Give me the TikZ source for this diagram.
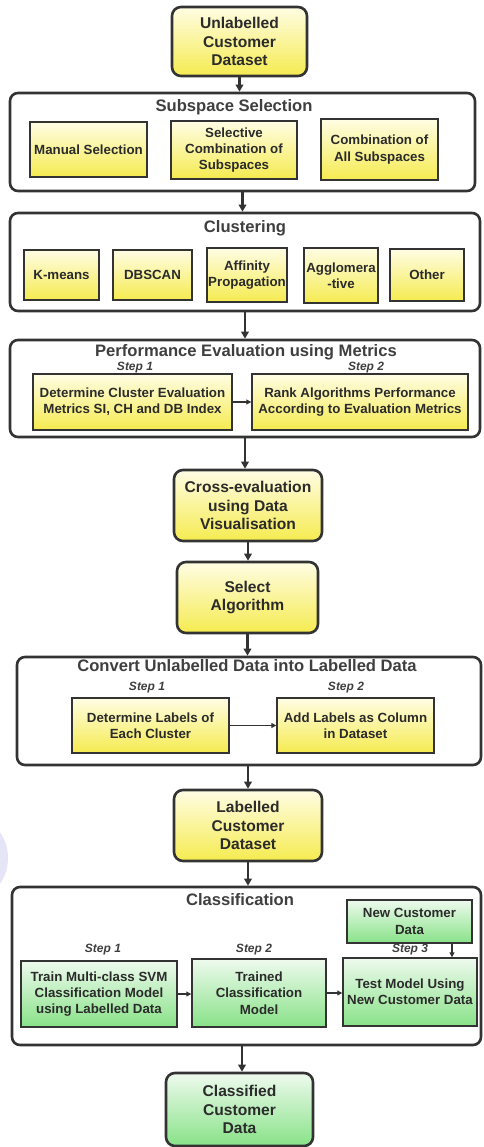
\documentclass[tikz,border=0pt]{standalone}
\usepackage{fontspec}
\setmainfont{Liberation Sans}
\usetikzlibrary{arrows.meta}
\definecolor{bordc}{HTML}{333333}
\definecolor{txtc}{HTML}{2B2B2B}
\definecolor{titlec}{HTML}{3F3F3F}
\definecolor{ytop}{HTML}{FFFDE4}
\definecolor{ybot}{HTML}{F5EB50}
\definecolor{gtop}{HTML}{EEFAEE}
\definecolor{gbot}{HTML}{88E288}
\definecolor{lav}{HTML}{E6E4F7}
\newcommand{\termfont}{\fontsize{15.6}{18.6}\selectfont\bfseries}
\newcommand{\boxfont}{\fontsize{13.3}{16.3}\selectfont\bfseries}
\newcommand{\titlefont}{\fontsize{16.6}{20}\selectfont\bfseries}
\newcommand{\stepfont}{\fontsize{12}{14}\selectfont\bfseries\itshape}
\tikzset{
  bigbox/.style={draw=bordc, line width=2.6pt, rounded corners=8pt, fill=white, inner sep=0pt},
  yterm/.style={draw=bordc, line width=2.6pt, rounded corners=9pt, top color=ytop, bottom color=ybot, align=center, font=\termfont, text=txtc, inner sep=0pt},
  gterm/.style={yterm, top color=gtop, bottom color=gbot},
  ybox/.style={draw=bordc, line width=1.4pt, top color=ytop, bottom color=ybot, align=center, font=\boxfont, text=txtc, inner sep=0pt},
  gbox/.style={ybox, top color=gtop, bottom color=gbot},
  boxtitle/.style={font=\titlefont, text=titlec, inner sep=0pt},
  steplbl/.style={font=\stepfont, text=titlec, inner sep=0pt},
  arr/.style={draw=bordc, line width=2.4pt, -{Triangle[length=7pt,width=7.5pt]}},
  sarr/.style={draw=bordc, line width=1.2pt, -{Triangle[length=5pt,width=5pt]}},
}
\begin{document}
\begin{tikzpicture}[x=1pt,y=-1pt]
\useasboundingbox (0,0) rectangle (483,1147);
\fill[lav] (-30,858) ellipse [x radius=38, y radius=42];

% top terminal
\node[yterm, minimum width=135pt, minimum height=69pt] (ucd) at (239.5,41.5) {Unlabelled\\Customer\\Dataset};

% Subspace selection
\node[bigbox, minimum width=465pt, minimum height=98pt] (ss) at (242.5,142) {};
\node[boxtitle] (sst) at (234,107) {Subspace Selection};
\node[ybox, minimum width=117pt, minimum height=55pt] (ms) at (88.5,149.5) {Manual Selection};
\node[ybox, minimum width=126pt, minimum height=58pt] (sc) at (234,150) {Selective\\Combination of\\Subspaces};
\node[ybox, minimum width=117pt, minimum height=61pt] (ca) at (379.5,149.5) {Combination of\\All Subspaces};

% Clustering
\node[bigbox, minimum width=470pt, minimum height=98pt] (cl) at (245,262) {};
\node[boxtitle] (clt) at (245,228) {Clustering};
\node[ybox, minimum width=75pt, minimum height=50pt] (km) at (61.5,275) {K-means};
\node[ybox, minimum width=79pt, minimum height=50pt] (dbs) at (152.5,275) {DBSCAN};
\node[ybox, minimum width=80pt, minimum height=54pt] (ap) at (247,275) {Affinity\\Propagation};
\node[ybox, minimum width=74pt, minimum height=55pt] (ag) at (341,275.5) {Agglomera\\-tive};
\node[ybox, minimum width=74pt, minimum height=52pt] (ot) at (427,275) {Other};

% Performance evaluation
\node[bigbox, minimum width=470pt, minimum height=97pt] (pe) at (245,388.5) {};
\node[boxtitle] (pet) at (246,352) {Performance Evaluation using Metrics};
\node[steplbl] (pes1) at (135,368) {Step 1};
\node[steplbl] (pes2) at (366,368) {Step 2};
\node[ybox, minimum width=199pt, minimum height=56pt] (pb1) at (132.5,402) {Determine Cluster Evaluation\\Metrics SI, CH and DB Index};
\node[ybox, minimum width=216pt, minimum height=56pt] (pb2) at (360,402) {Rank Algorithms Performance\\According to Evaluation Metrics};

% Cross-evaluation, select
\node[yterm, minimum width=148pt, minimum height=71pt] (cv) at (248,505.5) {Cross-evaluation\\using Data\\Visualisation};
\node[yterm, minimum width=141pt, minimum height=71pt] (sa) at (247.5,597.5) {Select\\Algorithm};

% Convert
\node[bigbox, minimum width=464pt, minimum height=108pt] (co) at (249,711) {};
\node[boxtitle] (cot) at (247,666) {Convert Unlabelled Data into Labelled Data};
\node[steplbl] (cos1) at (147,688) {Step 1};
\node[steplbl] (cos2) at (346,688) {Step 2};
\node[ybox, minimum width=157pt, minimum height=55pt] (cb1) at (150.5,725.5) {Determine Labels of\\Each Cluster};
\node[ybox, minimum width=157pt, minimum height=55pt] (cb2) at (355.5,725.5) {Add Labels as Column\\in Dataset};

% Labelled dataset
\node[yterm, minimum width=148pt, minimum height=71pt] (lcd) at (248,825.5) {Labelled\\Customer\\Dataset};

% Classification
\node[bigbox, minimum width=469pt, minimum height=158pt] (cf) at (246.5,966) {};
\node[boxtitle] (cft) at (240,900) {Classification};
\node[gbox, minimum width=125pt, minimum height=43pt] (ncd) at (409.5,921.5) {New Customer\\Data};
\node[steplbl] (cfs1) at (103,950) {Step 1};
\node[steplbl] (cfs2) at (254,950) {Step 2};
\node[steplbl] (cfs3) at (410,950) {Step 3};
\node[gbox, minimum width=156pt, minimum height=66pt] (t1) at (99,994) {Train Multi-class SVM\\Classification Model\\using Labelled Data};
\node[gbox, minimum width=134pt, minimum height=68pt] (t2) at (259,993) {Trained\\Classification\\Model};
\node[gbox, minimum width=134pt, minimum height=68pt] (t3) at (410,992) {Test Model Using\\New Customer Data};

% Classified
\node[gterm, minimum width=147pt, minimum height=73pt] (ccd) at (239.5,1109.5) {Classified\\Customer\\Data};

% main arrows
\draw[arr] (ucd.south) -- (ucd.south |- ss.north);
\draw[arr] (ss.south) -- (ss.south |- cl.north);
\draw[arr] (cl.south) -- (cl.south |- pe.north);
\draw[arr] (pe.south) -- (pe.south |- cv.north);
\draw[arr] (cv.south) -- (cv.south |- sa.north);
\draw[arr] (sa.south) -- (sa.south |- co.north);
\draw[arr] (lcd.north |- co.south) -- (lcd.north);
\draw[arr] (lcd.south) -- (lcd.south |- cf.north);
\draw[arr] ([xshift=-4.5pt]cf.south) -- ([xshift=-4.5pt]cf.south |- ccd.north);

% inner arrows
\draw[sarr] (pb1.east) -- (pb2.west);
\draw[sarr] (cb1.east) -- (cb2.west);
\draw[sarr] (t1.east) -- (t2.west |- t1.east);
\draw[sarr] (t2.east) -- (t3.west |- t2.east);
\draw[sarr] ([xshift=42.5pt]ncd.south) -- ([xshift=42.5pt]ncd.south |- t3.north);
\end{tikzpicture}
\end{document}
